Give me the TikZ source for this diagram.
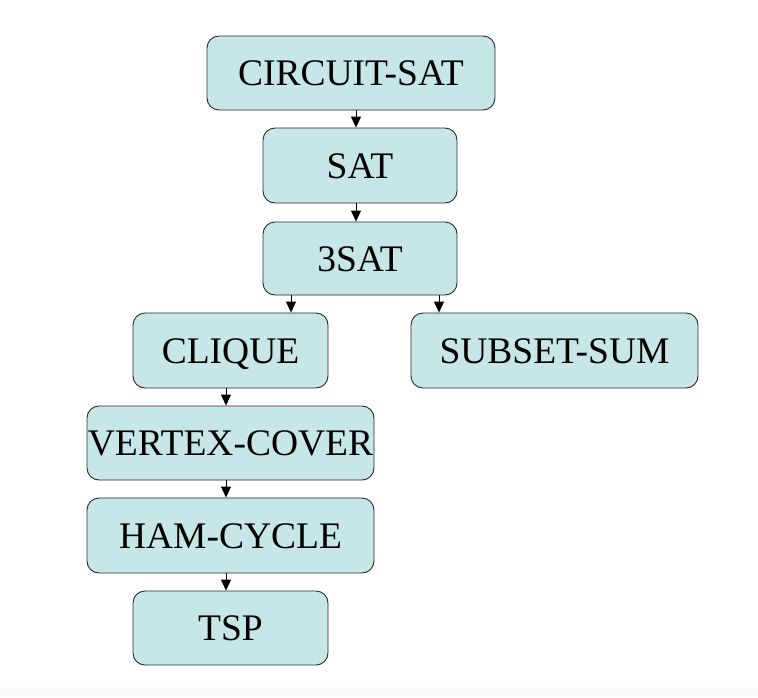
\documentclass[tikz,border=0pt]{standalone}
\usepackage{fontspec}
\setmainfont{Liberation Serif}
\usetikzlibrary{arrows.meta}
\definecolor{boxfill}{HTML}{C6E6E8}
\definecolor{boxline}{HTML}{2A2A2A}
\definecolor{stripgray}{HTML}{FAFAFA}
\begin{document}
\begin{tikzpicture}[x=1pt,y=-1pt,
  probbox/.style={draw=boxline,fill=boxfill,line width=0.9pt,rounded corners=12pt,
    inner sep=0pt,font=\fontsize{37.5}{41}\selectfont,text height=25pt,text depth=0pt},
  arr/.style={draw=black,line width=0.9pt,-{Triangle[length=11pt,width=10pt]}}]
\useasboundingbox (0,0) rectangle (758,697);
\fill[stripgray] (0,687) rectangle (758,697);
\node[probbox,minimum width=288pt,minimum height=74pt] (csat) at (351,73) {CIRCUIT-SAT};
\node[probbox,minimum width=194pt,minimum height=75pt] (sat) at (360,165.5) {SAT};
\node[probbox,minimum width=194pt,minimum height=73pt] (tsat) at (360,258.5) {3SAT};
\node[probbox,minimum width=195pt,minimum height=75pt] (clique) at (230.5,350.5) {CLIQUE};
\node[probbox,minimum width=287pt,minimum height=75pt] (subset) at (554.5,350.5) {SUBSET-SUM};
\node[probbox,minimum width=287pt,minimum height=74pt] (vc) at (230.5,443) {VERTEX-COVER};
\node[probbox,minimum width=287pt,minimum height=75pt] (ham) at (230.5,535.5) {HAM-CYCLE};
\node[probbox,minimum width=195pt,minimum height=74pt] (tsp) at (230.5,628) {TSP};
\coordinate (xa) at (356,0);
\coordinate (xb) at (291,0);
\coordinate (xc) at (439,0);
\coordinate (xd) at (226,0);
\draw[arr] (csat.south -| xa) -- (sat.north -| xa);
\draw[arr] (sat.south -| xa) -- (tsat.north -| xa);
\draw[arr] (tsat.south -| xb) -- (clique.north -| xb);
\draw[arr] (tsat.south -| xc) -- (subset.north -| xc);
\draw[arr] (clique.south -| xd) -- (vc.north -| xd);
\draw[arr] (vc.south -| xd) -- (ham.north -| xd);
\draw[arr] (ham.south -| xd) -- (tsp.north -| xd);
\end{tikzpicture}
\end{document}
